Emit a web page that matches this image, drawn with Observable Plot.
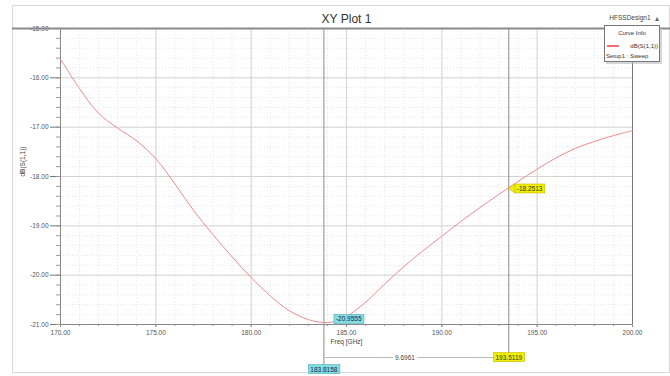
<!DOCTYPE html>
<html>
<head>
<meta charset="utf-8">
<script src="https://cdn.jsdelivr.net/npm/d3@7"></script>
<script src="https://cdn.jsdelivr.net/npm/@observablehq/plot@0.6"></script>
<style>
  html, body { margin: 0; padding: 0; background: #fff; }
  #chart { width: 670px; height: 376px; }
</style>
</head>
<body>
<div id="chart"></div>
<script>
// ---- data ----
const freq = [170, 171, 172, 173, 174, 175, 176, 177, 178, 179, 180, 181, 182, 183, 183.8, 184.5, 185, 186, 187, 188, 189, 190, 191, 192, 193, 194, 195, 196, 197, 198, 199, 200];
const s11  = [-15.62, -16.22, -16.72, -17.02, -17.28, -17.64, -18.15, -18.70, -19.18, -19.63, -20.05, -20.42, -20.72, -20.90, -20.96, -20.93, -20.84, -20.55, -20.18, -19.83, -19.51, -19.21, -18.91, -18.63, -18.36, -18.10, -17.85, -17.62, -17.43, -17.29, -17.17, -17.07];
const xTicks = [170, 175, 180, 185, 190, 195, 200];
const yTicks = [-21, -20, -19, -18, -17, -16, -15];
const xMinor = d3.range(170, 200.01, 1);
const yMinor = d3.range(-21, -14.99, 0.2);
const markerFreq = [183.8158, 193.5119];
const markerVal = [-20.9555, -18.2513];
const markerDelta = 9.6961;
const title = "XY Plot 1";
const design = "HFSSDesign1";
const yLabel = "dB(S(1,1))";
const xLabel = "Freq [GHz]";
const legendTitle = "Curve Info";
const legendName = "dB(S(1,1))";
const legendSetup = "Setup1 : Sweep";

const data = freq.map((f, i) => ({f, v: s11[i]}));
const markers = markerFreq.map((f, i) => ({f, v: markerVal[i]}));
const fmt2 = d => d.toFixed(2);
const fmt4 = d => d.toFixed(4);
const FONT = "'Liberation Sans', Arial, sans-serif";

const chart = Plot.plot({
  width: 670, height: 376,
  marginLeft: 60, marginRight: 38, marginTop: 28, marginBottom: 52,
  x: {domain: [170, 200]},
  y: {domain: [-21, -15]},
  style: {fontFamily: FONT, fontSize: "6.5px", background: "white", color: "#555"},
  marks: [
    Plot.ruleX(xMinor, {stroke: "#e6e6e6", strokeDasharray: "1,2"}),
    Plot.ruleY(yMinor, {stroke: "#e6e6e6", strokeDasharray: "1,2"}),
    Plot.ruleX(xTicks, {stroke: "#d4d4d4"}),
    Plot.ruleY(yTicks, {stroke: "#d4d4d4"}),
    Plot.axisX(xTicks, {tickFormat: fmt2, tickSize: 3, tickPadding: 3, label: null, stroke: "#777"}),
    Plot.axisX(xMinor, {tickFormat: () => "", tickSize: 2, label: null, stroke: "#999"}),
    Plot.axisY(yTicks, {tickFormat: fmt2, tickSize: 10, tickPadding: 2, label: null, stroke: "#777"}),
    Plot.axisY(yMinor, {tickFormat: () => "", tickSize: 4, label: null, stroke: "#999"}),
    // frame
    Plot.ruleY([-21], {stroke: "#888"}),
    Plot.ruleX([170], {stroke: "#888"}),
    Plot.ruleX([200], {stroke: "#777"}),
    Plot.ruleY([-15], {stroke: "#8a8a8a", strokeWidth: 2, insetLeft: -48, insetRight: -38}),
    // marker lines
    Plot.ruleX([markers[0]], {x: "f", stroke: "#8c8c8c", insetBottom: -42}),
    Plot.ruleX([markers[1]], {x: "f", stroke: "#8c8c8c", insetBottom: -33}),
    Plot.ruleY([0], {x1: () => markerFreq[0], x2: () => markerFreq[1], y: () => -21, dy: 33, stroke: "#bbb"}),
    // curve
    Plot.line(data, {x: "f", y: "v", stroke: "#f08a8a", strokeWidth: 1, curve: "catmull-rom"}),
    // marker labels
    Plot.text([markers[0]], {x: "f", y: "v", text: d => fmt4(d.v), textAnchor: "start", dx: 12, dy: -3, fill: "#225", className: "bx-cyan"}),
    Plot.text([markers[1]], {x: "f", y: "v", text: d => fmt4(d.v), textAnchor: "start", dx: 8, fill: "#333", className: "bx-yellow"}),
    Plot.text([markers[0]], {x: "f", y: () => -21, dy: 45, text: d => fmt4(d.f), fill: "#225", className: "bx-cyan"}),
    Plot.text([markers[1]], {x: "f", y: () => -21, dy: 33, text: d => fmt4(d.f), fill: "#333", className: "bx-yellow"}),
    Plot.text([markerDelta], {x: () => (markerFreq[0] + markerFreq[1]) / 2 - 0.6, y: () => -21, dy: 33, text: d => fmt4(d), fill: "#444", className: "bx-white"}),
    // texts
    Plot.text([title], {frameAnchor: "top", dy: -14, fontSize: 12, fill: "#333"}),
    Plot.text([design], {frameAnchor: "top-right", dx: 18, dy: -13, textAnchor: "end", fontSize: 6.5, fill: "#444"}),
    Plot.text(["\u25b4"], {frameAnchor: "top-right", dx: 26, dy: -13, fontSize: 8, fill: "#666"}),
    Plot.text([xLabel], {frameAnchor: "bottom", dy: 19, fill: "#444"}),
    Plot.text([yLabel], {frameAnchor: "left", dx: -38, rotate: -90, fill: "#444"})
  ]
});
document.getElementById("chart").appendChild(chart);

// decoration: boxes behind marker labels
const svg = d3.select(chart);
function boxes(cls, fill, stroke) {
  svg.selectAll("g." + cls + " text").each(function() {
    const b = this.getBBox();
    const t = this.getAttribute("transform");
    const r = d3.select(this.parentNode).insert("rect", () => this)
      .attr("x", b.x - 2).attr("y", b.y - 1)
      .attr("width", b.width + 4).attr("height", b.height + 2)
      .attr("fill", fill).attr("stroke", stroke).attr("stroke-width", 0.6);
    if (t) r.attr("transform", t);
  });
}
boxes("bx-cyan", "#7fdede", "#5ab");
boxes("bx-yellow", "#eef000", "#c9b800");
boxes("bx-white", "#fff", "none");
// arrow on on-curve yellow label
(function() {
  const t = svg.selectAll("g.bx-yellow text").nodes()[0];
  if (!t) return;
  const b = t.getBBox();
  const tr = t.getAttribute("transform");
  const p = d3.select(t.parentNode).insert("path", () => t)
    .attr("d", `M${b.x - 2},${b.y - 1}L${b.x - 8},${b.y + b.height / 2}L${b.x - 2},${b.y + b.height + 1}Z`)
    .attr("fill", "#eef000").attr("stroke", "#c9b800").attr("stroke-width", 0.6);
  if (tr) p.attr("transform", tr);
})();

// outer border and legend box
svg.insert("rect", ":first-child").attr("x", 12.5).attr("y", 5.5).attr("width", 657).attr("height", 367).attr("fill", "white").attr("stroke", "#d8d8d8");
const lg = svg.append("g").attr("font-size", 6).attr("fill", "#333").attr("font-family", FONT).attr("text-anchor", "start");
lg.append("rect").attr("x", 606).attr("y", 27).attr("width", 56).attr("height", 37).attr("fill", "#bbb").attr("opacity", 0.6);
lg.append("rect").attr("x", 604.5).attr("y", 25.5).attr("width", 55).attr("height", 36).attr("fill", "white").attr("stroke", "#777");
lg.append("text").attr("x", 632).attr("y", 35).attr("text-anchor", "middle").text(legendTitle);
lg.append("line").attr("x1", 607).attr("x2", 619).attr("y1", 46).attr("y2", 46).attr("stroke", "#f07070").attr("stroke-width", 2);
lg.append("text").attr("x", 658).attr("y", 48).attr("text-anchor", "end").text(legendName);
lg.append("text").attr("x", 606).attr("y", 58).attr("text-anchor", "start").text(legendSetup);
</script>
</body>
</html>
